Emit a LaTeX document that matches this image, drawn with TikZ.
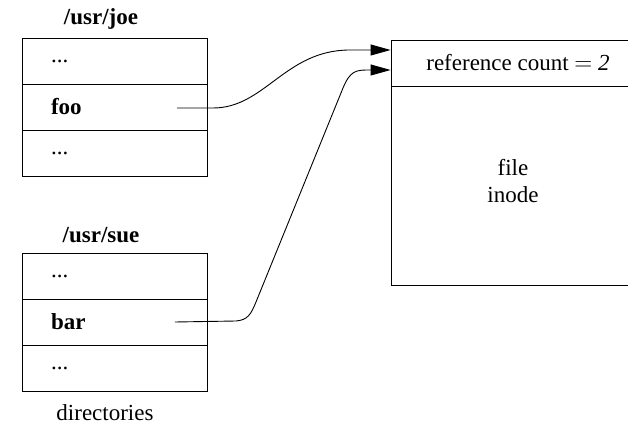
\documentclass[tikz,border=0pt]{standalone}
\usepackage{fontspec}
\setmainfont{Liberation Serif}
\usetikzlibrary{arrows.meta}
\begin{document}
\begin{tikzpicture}[x=1pt, y=-1pt, line width=0.9pt,
  font=\fontsize{23}{27}\selectfont,
  title/.style={anchor=base, font=\fontsize{23}{27}\selectfont\bfseries},
  row/.style={draw, text width=127pt, inner xsep=29pt, inner ysep=0pt,
    minimum height=46pt, align=left},
  inode/.style={draw, minimum width=254pt, inner sep=0pt, align=center},
  link/.style={line width=0.9pt, -{Triangle[length=20pt, width=11pt]}}]
  \path[use as bounding box, clip] (0,0) rectangle (628,430);
  % 두 디렉터리 · 각 칸 높이 46
  \coordinate (j1) at (114.5,61); \coordinate (j2) at (114.5,107); \coordinate (j3) at (114.5,153);
  \coordinate (s1) at (114.5,276); \coordinate (s2) at (114.5,322); \coordinate (s3) at (114.5,368);
  \node[title] (joe) at (101,25) {/usr/joe};
  \node[title] (sue) at (101,242) {/usr/sue};
  \node[row] (joe-a) at (j1) {...};
  \node[row] (foo) at (j2) {\textbf{foo}};
  \node[row] (joe-b) at (j3) {...};
  \node[row] (sue-a) at (s1) {...};
  \node[row] (bar) at (s2) {\textbf{bar}};
  \node[row] (sue-b) at (s3) {...};
  \node[anchor=base] (dirs) at (105,420) {directories};
  % 오른쪽 i-node (오른쪽 변은 그림 밖)
  \node[inode, minimum height=46pt] (ref) at (518,63) {reference count $=$ \textit{2}};
  \node[inode, minimum height=199pt, anchor=north] (body) at (ref.south) {};
  \node[align=center] (fi) at (513,181) {file\\inode};
  % 두 항목에서 같은 i-node로
  \coordinate (foo-out) at (177,108);
  \coordinate (bar-out) at (175,322);
  \draw[link] (foo-out) -- (213,108) .. controls (265,108) and (285,50) .. (350,50)
    -- ([yshift=13pt]ref.west);
  \draw[link] (bar-out) -- (236,321) .. controls (248,320) and (251,314) .. (256,302)
    -- (343,88) .. controls (350,71) and (356,70) .. (368,70) -- ([yshift=-7pt]ref.west);
\end{tikzpicture}
\end{document}
